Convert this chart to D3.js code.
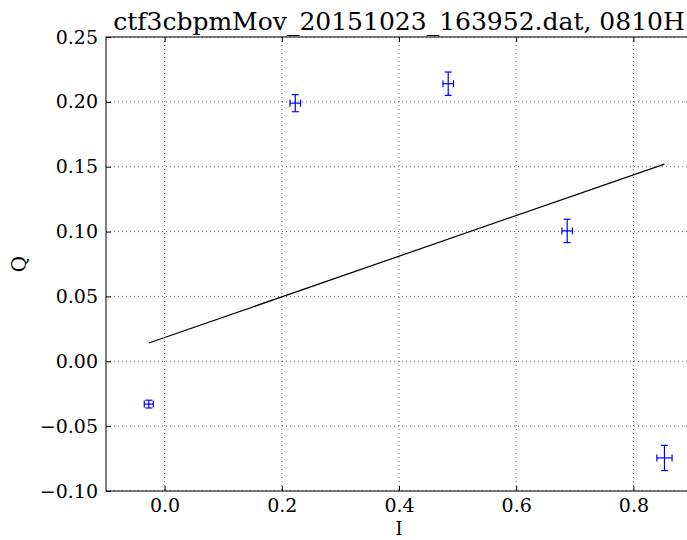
<!DOCTYPE html>
<html><head><meta charset="utf-8">
<script src="https://cdn.jsdelivr.net/npm/d3@7"></script>
<style>body{margin:0;background:#fff;} svg{display:block;}</style>
</head><body>
<svg id="c" width="687" height="540"></svg>
<script>
const title = "ctf3cbpmMov_20151023_163952.dat, 0810H";
const xLabel = "I", yLabel = "Q";
const pointsI = [-0.027, 0.223, 0.484, 0.687, 0.853];
const pointsQ = [-0.033, 0.199, 0.214, 0.1005, -0.0745];
const errI = [0.0077, 0.009, 0.009, 0.009, 0.013];
const errQ = [0.003, 0.0066, 0.009, 0.009, 0.0097];
const fitI = [-0.027, 0.853];
const fitQ = [0.0141, 0.152];
const xTicks = [0.0, 0.2, 0.4, 0.6, 0.8];
const yTicks = [-0.10, -0.05, 0.00, 0.05, 0.10, 0.15, 0.20, 0.25];

const svg = d3.select("#c");
const L = 106, R = 692, T = 37, B = 491;
const x = d3.scaleLinear().domain([-0.1, 0.9]).range([L, R]);
const y = d3.scaleLinear().domain([-0.10, 0.25]).range([B, T]);
const font = "DejaVu Serif";
const fmtY = v => d3.format(".2f")(v).replace("-", "\u2212");
const fmtX = v => d3.format(".1f")(v).replace("-", "\u2212");

// grid
const g = svg.append("g");
g.selectAll(".gx").data(xTicks).join("line")
  .attr("x1", d => x(d)).attr("x2", d => x(d)).attr("y1", T).attr("y2", B)
  .attr("stroke", "#444").attr("stroke-width", 0.8).attr("stroke-dasharray", "1,3");
g.selectAll(".gy").data(yTicks).join("line")
  .attr("y1", d => y(d)).attr("y2", d => y(d)).attr("x1", L).attr("x2", R)
  .attr("stroke", "#444").attr("stroke-width", 0.8).attr("stroke-dasharray", "1,3");

// axes (inward ticks)
const axB = d3.axisBottom(x).tickValues(xTicks).tickSize(-5).tickPadding(8).tickFormat(fmtX);
const axT = d3.axisTop(x).tickValues(xTicks).tickSize(-5).tickFormat("");
const axL = d3.axisLeft(y).tickValues(yTicks).tickSize(-5).tickPadding(8).tickFormat(fmtY);
const axR = d3.axisRight(y).tickValues(yTicks).tickSize(-5).tickFormat("");
function style(sel){
  sel.select(".domain").remove();
  sel.selectAll("text").attr("font-family", font).attr("font-size", 19).attr("fill", "#000");
  sel.selectAll("line").attr("stroke", "#000");
}
svg.append("g").attr("transform", `translate(0,${B})`).call(axB).call(style);
svg.append("g").attr("transform", `translate(0,${T})`).call(axT).call(style);
svg.append("g").attr("transform", `translate(${L},0)`).call(axL).call(style);
svg.append("g").attr("transform", `translate(${R},0)`).call(axR).call(style);

svg.append("rect").attr("x", L).attr("y", T).attr("width", R - L).attr("height", B - T)
  .attr("fill", "none").attr("stroke", "#000").attr("stroke-width", 1);

// fit line
const fit = fitI.map((v, i) => [v, fitQ[i]]);
svg.append("path").datum(fit)
  .attr("d", d3.line().x(d => x(d[0])).y(d => y(d[1])))
  .attr("stroke", "#000").attr("stroke-width", 1.2).attr("fill", "none");

// error bars
const pts = pointsI.map((v, i) => ({i: v, q: pointsQ[i], ei: errI[i], eq: errQ[i]}));
const eb = svg.append("g").attr("stroke", "#0000ff").attr("stroke-width", 1.2);
const cap = 3.5;
pts.forEach(p => {
  const cx = x(p.i), cy = y(p.q);
  const x0 = x(p.i - p.ei), x1 = x(p.i + p.ei), y0 = y(p.q - p.eq), y1 = y(p.q + p.eq);
  eb.append("line").attr("x1", x0).attr("x2", x1).attr("y1", cy).attr("y2", cy);
  eb.append("line").attr("x1", cx).attr("x2", cx).attr("y1", y0).attr("y2", y1);
  eb.append("line").attr("x1", x0).attr("x2", x0).attr("y1", cy - cap).attr("y2", cy + cap);
  eb.append("line").attr("x1", x1).attr("x2", x1).attr("y1", cy - cap).attr("y2", cy + cap);
  eb.append("line").attr("x1", cx - cap).attr("x2", cx + cap).attr("y1", y0).attr("y2", y0);
  eb.append("line").attr("x1", cx - cap).attr("x2", cx + cap).attr("y1", y1).attr("y2", y1);
});

// labels
svg.append("text").attr("x", (L + R) / 2).attr("y", T - 7).attr("text-anchor", "middle")
  .attr("font-family", font).attr("font-size", 25).text(title);
svg.append("text").attr("x", (L + R) / 2).attr("y", 535).attr("text-anchor", "middle")
  .attr("font-family", font).attr("font-size", 18).text(xLabel);
svg.append("text").attr("transform", `translate(26,${(T + B) / 2}) rotate(-90)`).attr("text-anchor", "middle")
  .attr("font-family", font).attr("font-size", 20).text(yLabel);
</script>
</body></html>
